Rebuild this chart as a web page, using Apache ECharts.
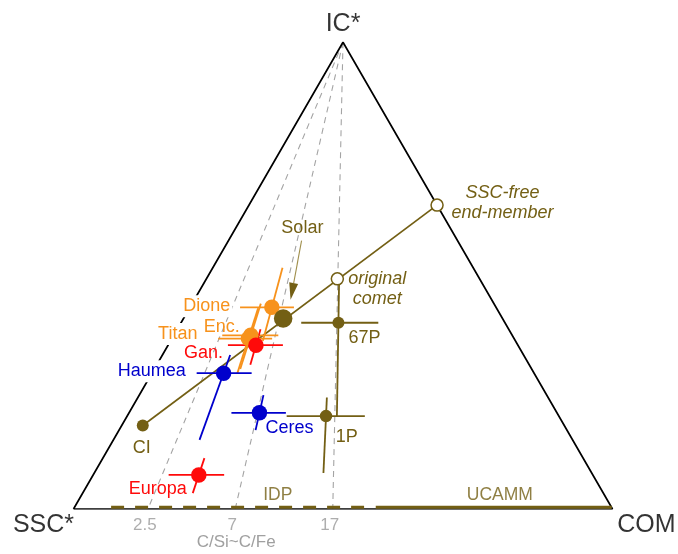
<!DOCTYPE html>
<html><head><meta charset="utf-8">
<script src="https://cdn.jsdelivr.net/npm/echarts/dist/echarts.min.js"></script>
<style>html,body{margin:0;padding:0;background:#fff}#c{width:678px;height:554px}</style>
</head><body><div id="c"></div>
<script>
// ---------------- DATA (percent of IC*, COM; SSC* = remainder) ----------------
const vertexNames = ['SSC*', 'COM', 'IC*'];
const objects    = ['Dione', 'Enc.', 'Titan', 'Gan.', 'Haumea', 'Ceres', 'Europa', 'CI', 'Solar', '67P', '1P'];
const objectIC   = [43.2, 37.2, 36.5, 35.1, 29.1, 20.6, 7.3, 17.9, 40.8, 39.9, 19.9];
const objectCOM  = [15.2, 14.3, 14.2, 16.3, 13.3, 24.2, 19.6, 3.9, 18.5, 29.2, 36.9];
const comErrLow  = [9.3, 9.0, 8.6, 11.1, 8.3, 19.0, 14.0, null, null, 22.3, 29.6];
const comErrHigh = [19.3, 19.4, 18.6, 21.3, 18.5, 29.1, 24.3, null, null, 36.6, 44.1];
const icErrLow   = [36.0, 30.0, 29.0, 30.9, 14.8, 16.9, 3.4, null, null, 19.8, 7.7];
const icErrHigh  = [51.7, 44.0, 43.0, 38.5, 33.0, 24.4, 10.9, null, null, 48.0, 23.9];
const endMembers   = ['original\ncomet', 'SSC-free\nend-member'];
const endMemberIC  = [49.3, 65.1];
const endMemberCOM = [24.3, 34.9];
const ratioTicks    = ['2.5', '7', '17'];
const ratioTickCOM  = [13.8, 30.0, 48.1];
const ratioAxisTitle = 'C/Si~C/Fe';
const baseRangeNames = ['IDP', 'UCAMM'];
const baseRangeCOM   = [[6.8, 53.9], [55.9, 99.7]];

// ---------------- STYLE ----------------
const OLIVE = '#735f14', ORANGE = '#f7921c', RED = '#ff0a0a', BLUE = '#0000cc', GRAY = '#a4a4a4';
const FONT = '"Liberation Sans", Arial, Helvetica, sans-serif';
const objColor = {'Dione':ORANGE,'Enc.':ORANGE,'Titan':ORANGE,'Gan.':RED,'Haumea':BLUE,'Ceres':BLUE,'Europa':RED,'CI':OLIVE,'Solar':OLIVE,'67P':OLIVE,'1P':OLIVE};
const objSize = {'Solar':18.5,'CI':12,'67P':12,'1P':12.5};
const labelLayout = {
  'Dione':  {dx:-39.5, dy:-1,   align:'right', bg:true},
  'Enc.':   {dx:-11,   dy:-8.5, align:'right'},
  'Titan':  {dx:-49,   dy:-4.5, align:'right', bg:true},
  'Gan.':   {dx:-33,   dy:7.5,  align:'right'},
  'Haumea': {dx:-35.8, dy:-2,   align:'right', bg:true},
  'Ceres':  {dx:6,     dy:15,   align:'left'},
  'Europa': {dx:-12,   dy:14,   align:'right'},
  'CI':     {dx:-1,    dy:23,   align:'center'},
  '67P':    {dx:10,    dy:15.5, align:'left'},
  '1P':     {dx:9.7,   dy:20.7, align:'left'}
};
const endLabelLayout = [{dx:40, dy:10}, {dx:65.5, dy:-2}];
const vertexLabelLayout = {'SSC*':{dx:-30,dy:16.6}, 'COM':{dx:33.8,dy:16.6}, 'IC*':{dx:0,dy:-18}};
const baseLabelCOM = {'IDP':37.9, 'UCAMM':79.1};

const H = Math.sqrt(3) / 2;
function tern(ic, com) { return [com / 100 + ic / 200, ic / 100 * H]; }
const vIC = {'SSC*':0, 'COM':0, 'IC*':100}, vCOM = {'SSC*':0, 'COM':100, 'IC*':0};
const V = n => tern(vIC[n], vCOM[n]);

const series = [];
ratioTicks.forEach((t, i) => {
  series.push({type:'line', silent:true, symbol:'none', z:1, animation:false,
    data:[V('IC*'), tern(0, ratioTickCOM[i])],
    lineStyle:{color:GRAY, width:1.1, type:[6,5]}});
});
series.push({type:'line', silent:true, symbol:'none', z:2, animation:false,
  data:[V('SSC*'), V('COM'), V('IC*'), V('SSC*')],
  lineStyle:{color:'#000', width:1.7}});
baseRangeNames.forEach((n, i) => {
  series.push({type:'line', silent:true, symbol:'none', z:3, animation:false,
    data:[tern(0.35, baseRangeCOM[i][0]), tern(0.35, baseRangeCOM[i][1])],
    lineStyle:{color:OLIVE, width:3, type: i === 0 ? [13,11] : 'solid'}});
});
const ciIdx = objects.indexOf('CI');
series.push({type:'line', silent:true, symbol:'none', z:3, animation:false,
  data:[tern(objectIC[ciIdx], objectCOM[ciIdx]), tern(endMemberIC[1], endMemberCOM[1])],
  lineStyle:{color:OLIVE, width:1.7}});
objects.forEach((n, i) => {
  const col = objColor[n];
  if (comErrLow[i] != null) {
    series.push({type:'line', silent:true, symbol:'none', z:4, animation:false,
      data:[tern(objectIC[i], comErrLow[i]), tern(objectIC[i], comErrHigh[i])],
      lineStyle:{color:col, width:1.8}});
  }
  if (icErrLow[i] != null) {
    const r = (objectCOM[i] / 100) / (1 - objectIC[i] / 100);
    const pt = b => tern(b, (100 - b) * r);
    series.push({type:'line', silent:true, symbol:'none', z:4, animation:false,
      data:[pt(icErrLow[i]), pt(icErrHigh[i])],
      lineStyle:{color:col, width:1.8}});
  }
});
series.push({type:'scatter', silent:true, z:6, animation:false, symbol:'circle',
  data: objects.map((n, i) => {
    const L = labelLayout[n];
    return {name:n, value:tern(objectIC[i], objectCOM[i]), symbolSize:objSize[n] || 15.5,
      itemStyle:{color:objColor[n], opacity:1},
      label: L ? {show:true, position:'inside', offset:[L.dx, L.dy], align:L.align, verticalAlign:'middle',
        formatter:n, color:objColor[n], fontSize:18, fontFamily:FONT,
        backgroundColor: L.bg ? '#fff' : 'transparent', padding: L.bg ? [2,2] : 0} : {show:false}};
  })});
series.push({type:'scatter', silent:true, z:6, animation:false, symbol:'circle', symbolSize:12,
  itemStyle:{color:'#fff', borderColor:OLIVE, borderWidth:1.5, opacity:1},
  data: endMembers.map((n, i) => ({name:n, value:tern(endMemberIC[i], endMemberCOM[i]),
    itemStyle:{color:'#fff', borderColor:OLIVE, borderWidth:1.5},
    label:{show:true, position:'inside', offset:[endLabelLayout[i].dx, endLabelLayout[i].dy],
      align:'center', verticalAlign:'middle', formatter:n, color:OLIVE, fontSize:18,
      fontStyle:'italic', fontFamily:FONT, lineHeight:20.5}}))});
series.push({type:'scatter', silent:true, z:7, animation:false, symbolSize:0,
  data: vertexNames.map(n => ({name:n, value:V(n),
    label:{show:true, position:'inside', offset:[vertexLabelLayout[n].dx, vertexLabelLayout[n].dy],
      formatter:n, color:'#000', fontSize:25, fontFamily:FONT}}))});
series.push({type:'scatter', silent:true, z:7, animation:false, symbolSize:0,
  data: ratioTicks.map((t, i) => ({name:t, value:tern(0, ratioTickCOM[i]),
    label:{show:true, position:'inside', offset:[-3, 16], formatter:t, color:'#999', fontSize:17, fontFamily:FONT}}))});
series.push({type:'scatter', silent:true, z:7, animation:false, symbolSize:0,
  data: baseRangeNames.map(n => ({name:n, value:tern(0, baseLabelCOM[n]),
    label:{show:true, position:'inside', offset:[0, -14], formatter:n, color:OLIVE, fontSize:17.5, fontFamily:FONT}}))});

const chart = echarts.init(document.getElementById('c'), null, {renderer:'canvas'});
chart.setOption({
  backgroundColor:'#fff', animation:false,
  grid:{left:73.5, right:65.5, top:42, bottom:45, containLabel:false},
  xAxis:{type:'value', min:0, max:1, show:false},
  yAxis:{type:'value', min:0, max:467/539, show:false},
  series: series
});

const si = objects.indexOf('Solar');
const sp = chart.convertToPixel({gridIndex:0}, tern(objectIC[si], objectCOM[si]));
const tail = [sp[0] + 18.4, sp[1] - 78], tip = [sp[0] + 7.4, sp[1] - 18.7];
const dx = tip[0] - tail[0], dy = tip[1] - tail[1], len = Math.hypot(dx, dy);
const ux = dx / len, uy = dy / len, px = -uy, py = ux;
const base = [tip[0] - 17 * ux, tip[1] - 17 * uy];
const mid = chart.convertToPixel({gridIndex:0}, tern(0, ratioTickCOM[1]));
chart.setOption({graphic:[
  {type:'line', silent:true, z:8, shape:{x1:tail[0], y1:tail[1], x2:base[0], y2:base[1]},
    style:{stroke:'#a08f4c', lineWidth:1.1}},
  {type:'polygon', silent:true, z:8, shape:{points:[tip, [base[0] + 4.5*px, base[1] + 4.5*py], [base[0] - 4.5*px, base[1] - 4.5*py]]},
    style:{fill:OLIVE}},
  {type:'text', silent:true, z:8, x:sp[0] + 19.2, y:sp[1] - 90.4,
    style:{text:'Solar', fill:OLIVE, font:'18px ' + FONT, align:'center', verticalAlign:'middle'}},
  {type:'text', silent:true, z:8, x:mid[0] + 1, y:mid[1] + 33,
    style:{text:ratioAxisTitle, fill:'#a0a0a0', font:'17px ' + FONT, align:'center', verticalAlign:'middle'}}
]});
</script></body></html>
